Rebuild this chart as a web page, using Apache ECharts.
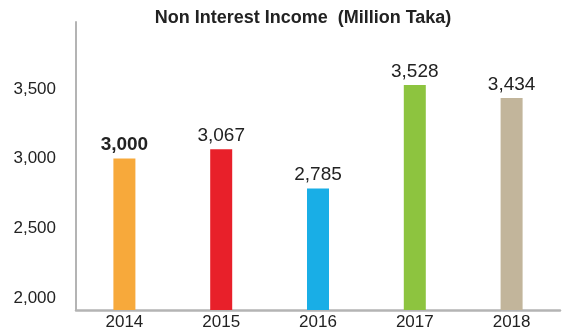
<!DOCTYPE html>
<html>
<head>
<meta charset="utf-8">
<script src="https://cdn.jsdelivr.net/npm/echarts@6/dist/echarts.min.js"></script>
<style>
  html, body { margin: 0; padding: 0; background: #fff; }
  #chart { width: 562px; height: 332px; }
</style>
</head>
<body>
<div id="chart"></div>
<script>
// Non interest income by year, in million Taka
const years = ['2014', '2015', '2016', '2017', '2018'];
const income = [3000, 3067, 2785, 3528, 3434];
const barColors = ['#F7A93B', '#E8202A', '#19AEE6', '#8DC43F', '#C2B59B'];
const yTicks = [2000, 2500, 3000, 3500];

const fmt = v => v.toLocaleString('en-US');
const font = 'Liberation Sans, Arial, Helvetica, sans-serif';

const chart = echarts.init(document.getElementById('chart'), null, { renderer: 'canvas' });
chart.setOption({
  animation: false,
  title: {
    text: 'Non Interest Income  (Million Taka)',
    left: 298,
    top: 4,
    textAlign: 'center',
    textStyle: { fontFamily: font, fontWeight: 'bold', fontSize: 18, color: '#222' }
  },
  grid: { left: 76, right: 2, top: 22, bottom: 22, containLabel: false },
  xAxis: {
    type: 'category',
    data: years,
    axisLine: { lineStyle: { color: '#b4b4b4', width: 2.5 } },
    axisTick: { show: false },
    axisLabel: { fontFamily: font, fontSize: 17, color: '#222', margin: 4 }
  },
  yAxis: {
    type: 'value',
    min: 1914,
    max: 3980,
    splitLine: { show: false },
    axisLine: { show: true, lineStyle: { color: '#b4b4b4', width: 2 } },
    axisTick: { show: false },
    axisLabel: {
      customValues: yTicks,
      formatter: v => fmt(v),
      fontFamily: font, fontSize: 17, color: '#222', margin: 20
    }
  },
  series: [{
    type: 'bar',
    barWidth: 22,
    data: income.map((v, i) => ({
      value: v,
      itemStyle: { color: barColors[i] },
      label: i === 0 ? { fontWeight: 'bold' } : {}
    })),
    label: {
      show: true,
      position: 'top',
      distance: 4,
      formatter: p => fmt(p.value),
      fontFamily: font, fontSize: 19, color: '#222'
    }
  }]
});
</script>
</body>
</html>
